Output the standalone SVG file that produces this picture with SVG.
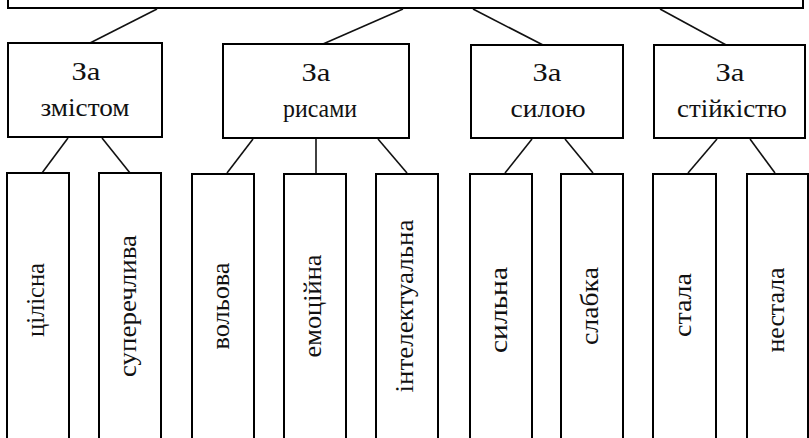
<svg xmlns="http://www.w3.org/2000/svg" width="809" height="438" viewBox="0 0 809 438">
  <style>
    .box { fill: #ffffff; stroke: #000000; stroke-width: 2; }
    .link { stroke: #111111; stroke-width: 1.6; fill: none; }
    .lbl { font-family: "Liberation Serif", "DejaVu Serif Condensed", "DejaVu Serif", serif; font-stretch: condensed; font-size: 26px; fill: #111111; text-anchor: middle; }
  </style>
  <rect x="0" y="0" width="809" height="438" fill="#ffffff"/>

  <!-- root box, cut off at the top edge -->
  <g id="root">
    <rect class="box" x="8" y="-20" width="795" height="28"/>
  </g>

  <!-- connectors -->
  <g id="connectors">
    <line class="link" x1="157" y1="9" x2="90" y2="43"/>
    <line class="link" x1="403" y1="9" x2="323" y2="44"/>
    <line class="link" x1="473" y1="9" x2="543" y2="45"/>
    <line class="link" x1="660" y1="9" x2="728" y2="46"/>

    <line class="link" x1="68" y1="138" x2="42" y2="173"/>
    <line class="link" x1="102" y1="138" x2="130" y2="173"/>

    <line class="link" x1="253" y1="139" x2="227" y2="173"/>
    <line class="link" x1="316" y1="139" x2="316" y2="173"/>
    <line class="link" x1="378" y1="139" x2="407" y2="173"/>

    <line class="link" x1="532" y1="139" x2="505" y2="173"/>
    <line class="link" x1="565" y1="139" x2="593" y2="173"/>

    <line class="link" x1="717" y1="139" x2="688" y2="173"/>
    <line class="link" x1="750" y1="139" x2="775" y2="173"/>
  </g>

  <!-- second level -->
  <g id="by-content">
    <rect class="box" x="8" y="43" width="154" height="94"/>
    <text class="lbl" x="86" y="80" textLength="29" lengthAdjust="spacingAndGlyphs">За</text>
    <text class="lbl" x="85" y="116" textLength="89" lengthAdjust="spacingAndGlyphs">змістом</text>
  </g>
  <g id="by-traits">
    <rect class="box" x="223" y="44" width="186" height="94"/>
    <text class="lbl" x="316" y="81" textLength="29" lengthAdjust="spacingAndGlyphs">За</text>
    <text class="lbl" x="320" y="117" textLength="74" lengthAdjust="spacingAndGlyphs">рисами</text>
  </g>
  <g id="by-strength">
    <rect class="box" x="471" y="45" width="152" height="93"/>
    <text class="lbl" x="547" y="81" textLength="29" lengthAdjust="spacingAndGlyphs">За</text>
    <text class="lbl" x="548" y="117" textLength="75" lengthAdjust="spacingAndGlyphs">силою</text>
  </g>
  <g id="by-stability">
    <rect class="box" x="654" y="45" width="151" height="93"/>
    <text class="lbl" x="730" y="81" textLength="29" lengthAdjust="spacingAndGlyphs">За</text>
    <text class="lbl" x="732" y="117" textLength="110" lengthAdjust="spacingAndGlyphs">стійкістю</text>
  </g>

  <!-- third level, boxes run past the bottom edge -->
  <g id="integral">
    <rect class="box" x="7" y="173" width="62" height="285"/>
    <text class="lbl" transform="translate(44 300) rotate(-90)" textLength="74" lengthAdjust="spacingAndGlyphs">цілісна</text>
  </g>
  <g id="contradictory">
    <rect class="box" x="99" y="173" width="62" height="285"/>
    <text class="lbl" transform="translate(136 306) rotate(-90)" textLength="142" lengthAdjust="spacingAndGlyphs">суперечлива</text>
  </g>
  <g id="volitional">
    <rect class="box" x="192" y="174" width="62" height="285"/>
    <text class="lbl" transform="translate(229 306) rotate(-90)" textLength="87" lengthAdjust="spacingAndGlyphs">вольова</text>
  </g>
  <g id="emotional">
    <rect class="box" x="284" y="174" width="62" height="285"/>
    <text class="lbl" transform="translate(321 306) rotate(-90)" textLength="103" lengthAdjust="spacingAndGlyphs">емоційна</text>
  </g>
  <g id="intellectual">
    <rect class="box" x="376" y="174" width="62" height="285"/>
    <text class="lbl" transform="translate(413 306) rotate(-90)" textLength="173" lengthAdjust="spacingAndGlyphs">інтелектуальна</text>
  </g>
  <g id="strong">
    <rect class="box" x="470" y="174" width="62" height="285"/>
    <text class="lbl" transform="translate(507 310) rotate(-90)" textLength="86" lengthAdjust="spacingAndGlyphs">сильна</text>
  </g>
  <g id="weak">
    <rect class="box" x="561" y="174" width="62" height="285"/>
    <text class="lbl" transform="translate(598 306) rotate(-90)" textLength="78" lengthAdjust="spacingAndGlyphs">слабка</text>
  </g>
  <g id="stable">
    <rect class="box" x="653" y="174" width="63" height="285"/>
    <text class="lbl" transform="translate(691 305) rotate(-90)" textLength="64" lengthAdjust="spacingAndGlyphs">стала</text>
  </g>
  <g id="unstable">
    <rect class="box" x="747" y="174" width="61" height="285"/>
    <text class="lbl" transform="translate(784 310) rotate(-90)" textLength="85" lengthAdjust="spacingAndGlyphs">нестала</text>
  </g>
</svg>
